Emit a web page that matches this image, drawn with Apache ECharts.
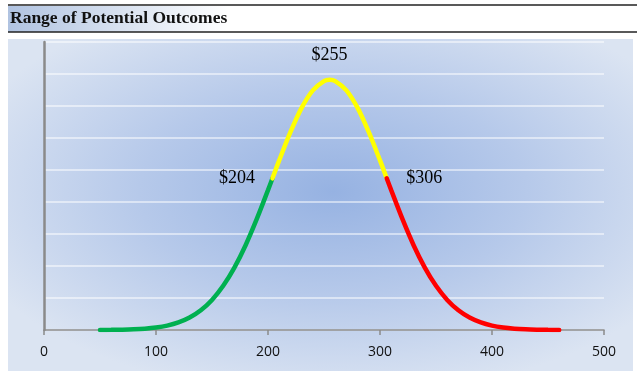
<!DOCTYPE html>
<html><head><meta charset="utf-8">
<script src="https://cdn.jsdelivr.net/npm/echarts@6/dist/echarts.min.js"></script>
<style>html,body{margin:0;padding:0;background:#fff}#c{width:640px;height:378px}</style>
</head><body><div id="c"></div>
<script>
const title = "Range of Potential Outcomes";
const xTicks = [0, 100, 200, 300, 400, 500];
// Green segment (low outcomes)
const greenX = [50, 60, 70, 80, 90, 100, 110, 120, 130, 140, 150, 160, 170, 180, 190, 200, 204];
const greenY = [0.0000024, 0.0000052, 0.0000109, 0.0000217, 0.0000418, 0.0000772, 0.000137, 0.000235, 0.000388, 0.000616, 0.00094, 0.00138, 0.00195, 0.00265, 0.00347, 0.00437, 0.00474];
// Yellow segment (middle)
const yellowX = [204, 210, 220, 230, 240, 250, 255, 260, 270, 280, 290, 300, 306];
const yellowY = [0.00474, 0.0053, 0.00618, 0.00694, 0.00749, 0.00778, 0.00782, 0.00778, 0.00749, 0.00694, 0.00618, 0.0053, 0.00474];
// Red segment (high outcomes)
const redX = [306, 310, 320, 330, 340, 350, 360, 370, 380, 390, 400, 410, 420, 430, 440, 450, 460];
const redY = [0.00474, 0.00437, 0.00347, 0.00265, 0.00195, 0.00138, 0.00094, 0.000616, 0.000388, 0.000235, 0.000137, 0.0000772, 0.0000418, 0.0000217, 0.0000109, 0.0000052, 0.0000024];
// Annotated points
const annX = [204, 255, 306];
const annY = [0.00474, 0.00782, 0.00474];
const annText = ["$204", "$255", "$306"];

const chart = echarts.init(document.getElementById('c'), null, {renderer: 'canvas'});
const serif = '"Liberation Serif","Times New Roman",serif';
function pairs(xs, ys){ return xs.map((x,i)=>[x, ys[i]]); }
function seg(xs, ys, color){
  return {type:'line', data:pairs(xs, ys), smooth:0.3, showSymbol:false, symbol:'none',
    lineStyle:{color:color, width:4.5, cap:'round'}, itemStyle:{color:color},
    z:5, animation:false, emphasis:{disabled:true}};
}
const annPos = ['left', 'top', 'right'];
const annDist = [17, 15, 19];
const annOff = [[0,8],[0,0],[0,8]];
const annData = annX.map((x,i)=>({
  value:[x, annY[i]],
  label:{show:true, position:annPos[i], distance:annDist[i], offset:annOff[i], formatter:annText[i]}
}));
const panelW = 625, panelH = 332;
chart.setOption({
  animation:false,
  graphic:[
    {type:'rect', shape:{x:8, y:6, width:629, height:26}, silent:true, z:-10,
     style:{fill:new echarts.graphic.LinearGradient(0,0,1,0,[
       {offset:0, color:'#b0c3e1'},{offset:0.35, color:'#ffffff'},{offset:1, color:'#ffffff'}])}},
    {type:'line', shape:{x1:8, y1:5, x2:637, y2:5}, silent:true, style:{stroke:'#222', lineWidth:1.5}},
    {type:'line', shape:{x1:8, y1:32, x2:637, y2:32}, silent:true, style:{stroke:'#222', lineWidth:1.5}},
    {type:'text', left:10, top:9, silent:true,
     style:{text:title, font:'bold 17.5px "Liberation Serif","Times New Roman",serif', fill:'#111'}},
    {type:'rect', x:8, y:39, scaleX:panelW/panelH, scaleY:1, originX:0, originY:0,
     shape:{x:0, y:0, width:panelH, height:panelH}, silent:true, z:-10,
     style:{fill:new echarts.graphic.RadialGradient(0.52,0.46,0.62,[
       {offset:0, color:'#96b2e2'},{offset:0.5, color:'#b6c9ea'},{offset:1, color:'#dbe4f2'}])}}
  ],
  grid:{left:44, right:36, top:42, bottom:48, containLabel:false},
  xAxis:{type:'value', min:0, max:500, interval:100,
    axisLine:{show:true, lineStyle:{color:'#8a8a8a', width:1.5}},
    axisTick:{show:true, length:5, inside:false, lineStyle:{color:'#8a8a8a', width:1.5}},
    axisLabel:{color:'#111', fontSize:14, margin:15, fontFamily:'"Open Sans","Liberation Sans",sans-serif',
      formatter:(v)=> xTicks.includes(v) ? String(v) : ''},
    splitLine:{show:false}},
  yAxis:{type:'value', min:0, max:0.009, interval:0.001,
    axisLine:{show:true, lineStyle:{color:'#8a8a8a', width:2.5}},
    axisTick:{show:false}, axisLabel:{show:false},
    splitLine:{show:true, lineStyle:{color:'rgba(255,255,255,0.5)', width:2}}},
  series:[
    seg(greenX, greenY, '#00b050'),
    seg(yellowX, yellowY, '#ffff00'),
    seg(redX, redY, '#ff0000'),
    {type:'scatter', data:annData, symbol:'circle', symbolSize:1,
     itemStyle:{color:'#ffff00', opacity:1}, z:4, silent:true, animation:false,
     labelLayout:{hideOverlap:false},
     label:{show:true, fontFamily:serif, fontSize:18, color:'#000', opacity:1},
     emphasis:{disabled:true}}
  ]
});
</script></body></html>
